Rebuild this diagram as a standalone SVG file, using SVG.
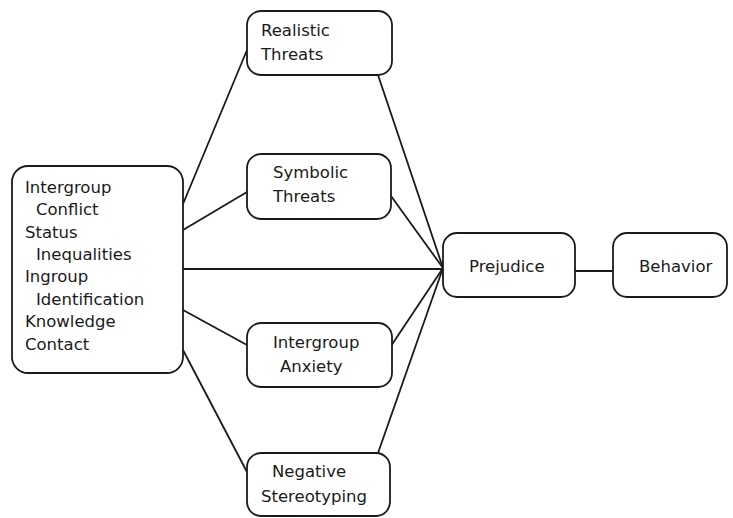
<svg xmlns="http://www.w3.org/2000/svg" width="733" height="518" viewBox="0 0 733 518">
<style>
.box{fill:#fff;stroke:#1a1a1a;stroke-width:1.8}
.ln{stroke:#1a1a1a;stroke-width:1.8;fill:none}
text{font-family:"DejaVu Sans",sans-serif;font-size:16.5px;fill:#1a1a1a}
</style>
<rect width="733" height="518" fill="#fff"/>
<g id="connectors">
<line class="ln" x1="183" y1="204" x2="247" y2="50"/>
<line class="ln" x1="183" y1="230" x2="247" y2="192"/>
<line class="ln" x1="183" y1="269" x2="443" y2="269"/>
<line class="ln" x1="183" y1="310" x2="247" y2="345"/>
<line class="ln" x1="183" y1="350" x2="247" y2="472"/>
<line class="ln" x1="378" y1="75" x2="443" y2="268"/>
<line class="ln" x1="391" y1="196" x2="443" y2="268"/>
<line class="ln" x1="391" y1="346" x2="443" y2="268"/>
<line class="ln" x1="378" y1="453" x2="443" y2="268"/>
<line class="ln" x1="575" y1="271" x2="613" y2="271"/>
</g>
<g id="antecedents">
<rect class="box" x="12" y="166" width="171" height="207" rx="16"/>
<text x="25" y="193">Intergroup</text>
<text x="36" y="215">Conflict</text>
<text x="25" y="238">Status</text>
<text x="36" y="260">Inequalities</text>
<text x="25" y="282">Ingroup</text>
<text x="36" y="305">Identification</text>
<text x="25" y="327">Knowledge</text>
<text x="25" y="350">Contact</text>
</g>
<g id="realistic">
<rect class="box" x="247" y="11" width="145" height="64" rx="14"/>
<text x="261" y="36">Realistic</text>
<text x="261" y="60">Threats</text>
</g>
<g id="symbolic">
<rect class="box" x="247" y="154" width="144" height="65" rx="14"/>
<text x="273" y="178">Symbolic</text>
<text x="273" y="202">Threats</text>
</g>
<g id="anxiety">
<rect class="box" x="247" y="323" width="145" height="64" rx="14"/>
<text x="273" y="348">Intergroup</text>
<text x="280" y="372">Anxiety</text>
</g>
<g id="stereotyping">
<rect class="box" x="247" y="453" width="143" height="63" rx="14"/>
<text x="272" y="477">Negative</text>
<text x="261" y="502">Stereotyping</text>
</g>
<g id="prejudice">
<rect class="box" x="443" y="233" width="132" height="64" rx="14"/>
<text x="469" y="272">Prejudice</text>
</g>
<g id="behavior">
<rect class="box" x="613" y="233" width="114" height="64" rx="14"/>
<text x="639" y="272">Behavior</text>
</g>
</svg>
